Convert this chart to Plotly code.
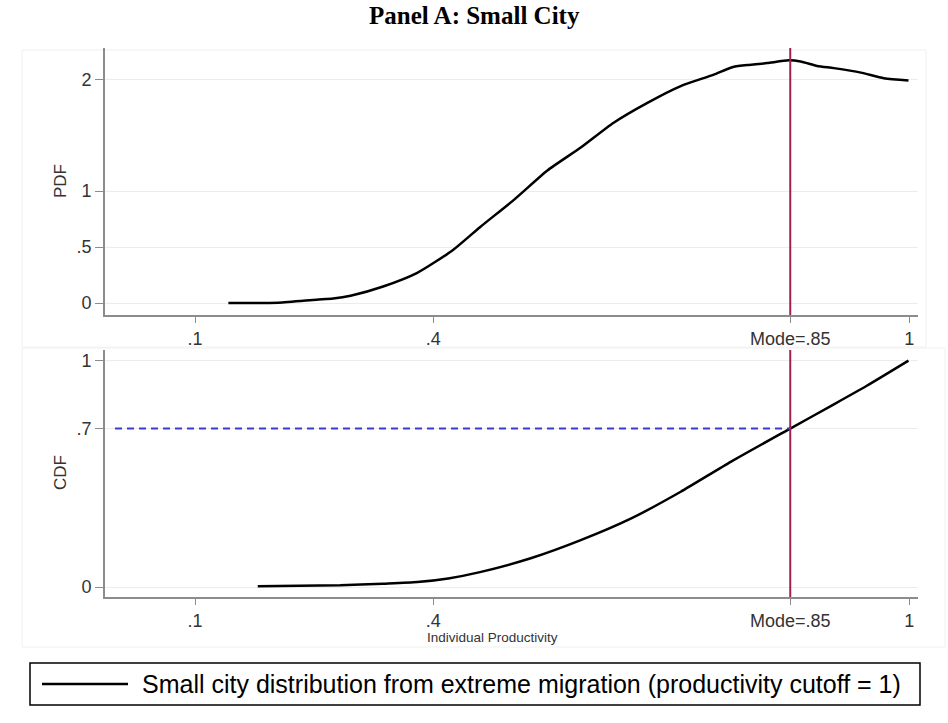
import plotly.graph_objects as go

# ---------------- data ----------------
pdf_x = [0.142, 0.205, 0.253, 0.274, 0.296, 0.337, 0.380, 0.425, 0.459, 0.501,
         0.544, 0.586, 0.627, 0.670, 0.712, 0.753, 0.778, 0.800, 0.821, 0.848,
         0.863, 0.884, 0.905, 0.939, 0.968, 0.999]
pdf_y = [0.000, 0.003, 0.030, 0.040, 0.065, 0.148, 0.270, 0.474, 0.678, 0.918,
         1.185, 1.390, 1.610, 1.790, 1.940, 2.040, 2.110, 2.130, 2.145, 2.170,
         2.160, 2.120, 2.100, 2.060, 2.010, 1.990]

cdf_x = [0.179, 0.283, 0.337, 0.380, 0.419, 0.459, 0.523, 0.586, 0.649, 0.712,
         0.775, 0.850, 0.905, 0.947, 0.999]
cdf_y = [0.004, 0.008, 0.015, 0.022, 0.038, 0.066, 0.127, 0.207, 0.302, 0.421,
         0.553, 0.700, 0.807, 0.890, 1.000]

x_tick_vals = [0.1, 0.4, 0.85, 1.0]
x_tick_text = [".1", ".4", "Mode=.85", "1"]
pdf_tick_vals = [0, 0.5, 1, 2]
pdf_tick_text = ["0", ".5", "1", "2"]
cdf_tick_vals = [0, 0.7, 1]
cdf_tick_text = ["0", ".7", "1"]

MODE = 0.85
CDF_AT_MODE = 0.7
X_RANGE = [-0.0135, 1.011]
PDF_RANGE = [-0.107, 2.28]
CDF_RANGE = [-0.044, 1.047]

TITLE = "Panel A: Small City"
LEGEND_TEXT = "Small city distribution from extreme migration (productivity cutoff = 1)"

# ---------------- layout constants ----------------
W, H = 948, 723
def px(x):
    return x / W
def py(y):
    return 1 - y / H

AXIS_COLOR = "#8c8c8c"
GRID_COLOR = "#ececec"
SANS = "Liberation Sans, Arial, sans-serif"
TICK_FONT = dict(family=SANS, size=18, color="#333333")
MODE_COLOR = "#a3224c"
DASH_COLOR = "#3a3ad6"

fig = go.Figure()

fig.add_trace(go.Scatter(x=pdf_x, y=pdf_y, mode="lines", xaxis="x", yaxis="y",
                         line=dict(color="black", width=2.5, shape="spline", smoothing=0.6),
                         showlegend=False, name=LEGEND_TEXT))
fig.add_trace(go.Scatter(x=cdf_x, y=cdf_y, mode="lines", xaxis="x2", yaxis="y2",
                         line=dict(color="black", width=2.5, shape="spline", smoothing=0.6),
                         showlegend=False, name=LEGEND_TEXT))

xcommon = dict(range=X_RANGE, tickmode="array", tickvals=x_tick_vals, ticktext=x_tick_text,
               showgrid=False, zeroline=False, showline=True, linecolor=AXIS_COLOR,
               linewidth=2, ticks="outside", ticklen=6, tickcolor=AXIS_COLOR, tickwidth=1,
               tickfont=TICK_FONT, ticklabelstandoff=0, domain=[px(105), px(918)],
               fixedrange=True)
ycommon = dict(zeroline=False, showline=True, linecolor=AXIS_COLOR, linewidth=2,
               ticks="outside", ticklen=8, tickcolor=AXIS_COLOR, tickwidth=1,
               tickfont=TICK_FONT, showgrid=True, gridcolor=GRID_COLOR, gridwidth=1,
               tickmode="array", fixedrange=True)

fig.update_layout(
    width=W, height=H,
    margin=dict(l=0, r=0, t=0, b=0),
    paper_bgcolor="white", plot_bgcolor="white",
    showlegend=False,
    xaxis=dict(**xcommon, anchor="y"),
    yaxis=dict(**ycommon, range=PDF_RANGE, tickvals=pdf_tick_vals, ticktext=pdf_tick_text,
               domain=[py(315), py(48)], anchor="x"),
    xaxis2=dict(**xcommon, anchor="y2"),
    yaxis2=dict(**ycommon, range=CDF_RANGE, tickvals=cdf_tick_vals, ticktext=cdf_tick_text,
                domain=[py(597), py(350)], anchor="x2"),
)

# Faint graph-region frames
fig.add_shape(type="rect", xref="paper", yref="paper", x0=px(22), x1=px(926), y0=py(347), y1=py(50),
              line=dict(color="#f0f0f0", width=1), layer="below")
fig.add_shape(type="rect", xref="paper", yref="paper", x0=px(22), x1=px(945), y0=py(647), y1=py(348),
              line=dict(color="#f0f0f0", width=1), layer="below")

# Mode lines
fig.add_shape(type="line", xref="x", yref="y domain", x0=MODE, x1=MODE, y0=0, y1=1,
              line=dict(color=MODE_COLOR, width=2))
fig.add_shape(type="line", xref="x2", yref="y2 domain", x0=MODE, x1=MODE, y0=0, y1=1,
              line=dict(color=MODE_COLOR, width=2))
# Dashed CDF-at-mode line
fig.add_shape(type="line", xref="x2", yref="y2", x0=X_RANGE[0] + 0.0126, x1=MODE,
              y0=CDF_AT_MODE, y1=CDF_AT_MODE,
              line=dict(color=DASH_COLOR, width=2, dash="7px,5px"))

# Title
fig.add_annotation(text="<b>" + TITLE + "</b>", xref="paper", yref="paper",
                   x=px(474), y=py(15), xanchor="center", yanchor="middle", showarrow=False,
                   font=dict(family="Liberation Serif, Times New Roman, serif", size=25, color="black"))
# Axis titles
fig.add_annotation(text="PDF", xref="paper", yref="paper", x=px(60), y=py(181), textangle=-90,
                   xanchor="center", yanchor="middle",
                   showarrow=False, font=dict(family=SANS, size=17, color="#333333"))
fig.add_annotation(text="CDF", xref="paper", yref="paper", x=px(60), y=py(473), textangle=-90,
                   xanchor="center", yanchor="middle",
                   showarrow=False, font=dict(family=SANS, size=17, color="#333333"))
fig.add_annotation(text="Individual Productivity", xref="paper", yref="paper", x=px(492), y=py(637),
                   xanchor="center", yanchor="middle",
                   showarrow=False, font=dict(family=SANS, size=13.5, color="#333333"))

# Legend box (drawn manually)
fig.add_shape(type="rect", xref="paper", yref="paper", x0=px(30), x1=px(920), y0=py(705), y1=py(663),
              line=dict(color="black", width=1.5), fillcolor="white")
fig.add_shape(type="line", xref="paper", yref="paper", x0=px(42), x1=px(128), y0=py(684), y1=py(684),
              line=dict(color="black", width=2.5))
fig.add_annotation(text=LEGEND_TEXT, xref="paper", yref="paper", x=px(140), y=py(684),
                   xanchor="left", yanchor="middle", showarrow=False,
                   font=dict(family=SANS, size=25, color="black"))

fig.write_html("out.html")
